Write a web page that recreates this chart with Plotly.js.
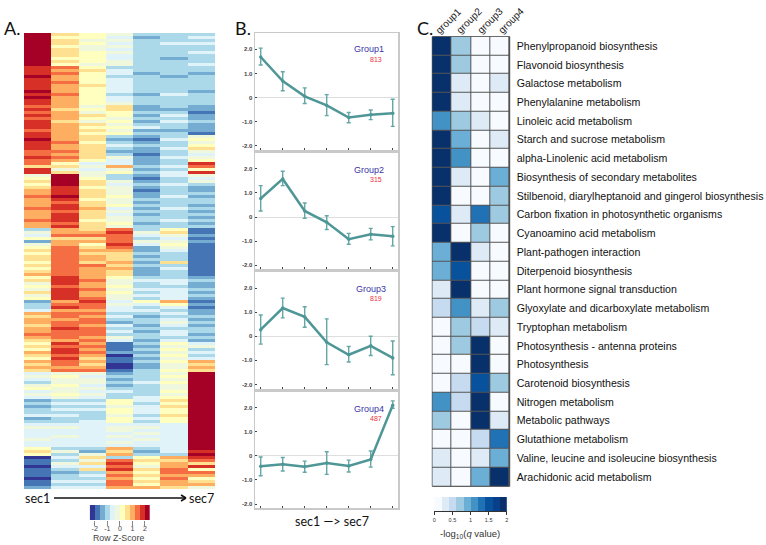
<!DOCTYPE html>
<html><head><meta charset="utf-8">
<script src="https://cdn.plot.ly/plotly-3.0.1.min.js"></script>
<style>html,body{margin:0;padding:0;background:#fff}#c{width:766px;height:545px}</style>
</head><body><div id="c"></div>
<script>
// Panel A: colour-bin level (0..11) of each heatmap row, one list per section
const sec1=[11,11,11,11,11,11,11,11,11,11,11, 10,10,10,11,10,10,10,10,11,10,11,10,10, 9,10,9,10,9,10,10,10,9,10, 10,11,10,10,10,9,9,10,9, 9,7,10,10,
 5,6,7,6,7,8,8,9,8,8,8,9,8,8,8,9,8,8, 3,5,4,6,2,5,6, 7,6,7,7,6,7,6,7,8, 6,7,5,6,5,7,5,6, 2,3,3,4, 8,7,8,8,7,8,8,9,8,7, 6,7,6,8,7,6,8,7,8,7,
 4,5,4,3,5,6,4,5,4, 2,3,2,3,3,4,2,3, 4,5,4,4,4,5,4,4, 6,7,6, 0,1,1,0,1,1,1,0,1,1,2];
const sec2=[7,6,7,7,6,7,7,7,6,7,6, 9,8,9,8,8,9,8,8,8,9,8,8,8, 8,7,8,8,8,7,8,8,8,8, 8,8,9,8,8,9,8,9,8, 6,7,5,7,
 11,11,11,11,10,10,10,11,10,9,10,10,9,10,10,10,9,10, 8,8,9,7,8,8,9, 9,9,9,9,9,9,9,9,9, 10,10,10,9,10,10,10,10, 8,9,10,8, 9,9,8,9,9,10,9,9,9,8, 10,9,10,10,9,10,9,9,8,9,
 5,6,5,5,6,5,5,6,5, 3,4,3,4,3,4,3,3, 4,5,4,4,5,4,4,4, 3,5,3, 4,3,5,4,3,2,3,3,4,3,4];
const sec3=[6,6,5,6,5,5,6,6,6,6,5, 6,7,6,6,6,6,7,6,6,6,6,6,6, 5,6,5,7,6,5,7,6,7,6, 7,7,6,7,7,7,7,7,6, 4,5,4,5,
 5,6,7,7,6,7,7,7,6,7,7,8,7,7,7,6,7,7, 7,8,9,7,8,6,7, 8,7,8,8,7,9,8,8,8, 8,9,8,8,9,8,8,9, 10,9,9,8, 9,8,9,9,8,9,9,9,8,9, 8,9,8,9,8,7,8,7,8,9,
 5,4,5,5,4,5,4,5,4, 3,4,3,4,3,3,3,4, 4,4,4,4,4,4,4,4, 3,2,5, 7,5,7,4,7,3,4,3,4,3,4];
const sec4=[5,4,5,4,5,4,5,4,4,5,5, 3,4,4,3,4,4,4,4,4,3,4,4,5, 7,7,6,6,5,6,5,6,5,6, 3,2,3,4,3,2,3,5,4, 4,8,5,6,
 3,3,5,4,5,5,5,6,5,5,6,4,5,4,5,5,6,5, 9,10,9,9,9,10,9, 8,7,7,7,8,7,8,7,7, 6,5,5,6,5,6,5,5, 4,5,4,4, 3,4,3,2,4,3,4,3,5,4, 1,1,1,2,0,1,1,0,0,1,
 2,3,2,3,2,3,4,3,3, 6,6,5,6,6,5,6,6, 4,5,5,4,5,4,5,4, 8,7,8, 3,9,10,9,10,8,9,8,9,9,8];
const sec5=[3,2,3,3,3,3,3,3,3,3,3, 3,3,2,3,3,3,3,3,3,2,3,3,3, 2,2,3,2,3,2,3,4,2,3, 2,1,2,3,2,2,1,2,2, 2,3,2,3,
 2,1,2,3,2,1,2,2,3,2,3,2,3,2,3,3,2,3, 3,5,4,3,5,4,2, 2,3,2,3,2,3,2,2,2, 3,4,3,3,4,3,4,3, 6,4,3,4, 3,2,3,3,2,3,2,3,3,2, 3,2,3,2,3,2,3,2,2,3,
 3,3,3,4,3,3,3,3,4, 4,3,4,4,4,3,4,3, 4,5,4,5,4,5,4,4, 3,2,3, 6,7,6,5,7,6,7,6,7,6,8];
const sec6=[3,3,3,4,3,3,3,3,2,3,3, 3,3,3,2,3,3,3,3,3,4,3,3,3, 3,2,3,4,3,4,3,3,2,3, 3,4,3,3,4,3,3,4,3, 3,4,3,4,
 4,3,3,4,3,3,3,4,3,3,3,4,3,3,3,4,3,3, 6,7,5,4,5,6,5, 4,3,3,3,7,3,4,3,3, 3,4,4,3,4,4,4,4, 8,6,4,3, 4,3,4,5,4,3,4,4,3,4, 6,5,6,5,6,5,6,5,5,6,
 5,6,5,6,5,5,6,5,6, 7,6,7,6,6,7,6,6, 4,4,4,4,4,4,4,4, 4,4,3, 8,7,8,8,9,9,8,9,8,8,7];
const sec7=[3,4,3,4,3,3,4,3,3,3,4, 3,3,2,3,3,3,3,3,2,3,3,3,3, 2,2,1,2,2,3,2,2,2,1, 5,6,5,6,7,5,4,5,6, 10,9,6,10,
 5,4,5,3,2,2,3,2,3,3,2,3,2,3,2,3,2,3, 1,1,2,1,2,1,1, 1,1,1,1,1,1,1,1,1, 2,3,2,2,3,2,3,2, 1,2,1,2, 2,3,2,3,2,3,3,2,3,2, 4,5,3,4,3,4,8,7,8,7,
 11,11,11,11,11,11,11,11,11, 11,11,11,11,11,11,11,11, 11,11,11,11,11,11,11,11, 11,10,11, 10,9,7,10,6,9,8,6,7,8,5];
const zBinValues=[-2.2,-1.8,-1.4,-1.0,-0.6,-0.2,0.2,0.6,1.0,1.4,1.8,2.2];
const zTicks=[-2,-1,0,1,2];

// Panel B: group means and whisker ends
const groupNames=['Group1','Group2','Group3','Group4'];
const groupCounts=['813','315','819','487'];
const g1Mean=[1.68,0.68,0.05,-0.33,-0.83,-0.72,-0.65];
const g1Up=[2.05,1.07,0.40,0.12,-0.62,-0.52,-0.07];
const g1Low=[1.35,0.28,-0.25,-0.75,-1.05,-0.92,-1.20];
const g2Mean=[0.77,1.58,0.25,-0.22,-0.92,-0.72,-0.80];
const g2Up=[1.30,1.90,0.58,0.05,-0.68,-0.47,-0.40];
const g2Low=[0.25,1.30,-0.05,-0.52,-1.13,-0.95,-1.20];
const g3Mean=[0.27,1.17,0.80,-0.25,-0.77,-0.40,-0.90];
const g3Up=[0.88,1.58,1.22,0.72,-0.43,0.00,-0.20];
const g3Low=[-0.33,0.76,0.37,-1.18,-1.07,-0.80,-1.60];
const g4Mean=[-0.43,-0.35,-0.45,-0.30,-0.42,-0.15,2.10];
const g4Up=[-0.05,-0.07,-0.22,0.17,-0.18,0.20,2.28];
const g4Low=[-0.83,-0.63,-0.68,-0.77,-0.67,-0.47,1.97];
const sections=[1,2,3,4,5,6,7];

// Panel C
const pathways=['Phenylpropanoid biosynthesis','Flavonoid biosynthesis','Galactose metabolism','Phenylalanine metabolism','Linoleic acid metabolism','Starch and sucrose metabolism','alpha-Linolenic acid metabolism','Biosynthesis of secondary metabolites','Stilbenoid, diarylheptanoid and gingerol biosynthesis','Carbon fixation in photosynthetic organisms','Cyanoamino acid metabolism','Plant-pathogen interaction','Diterpenoid biosynthesis','Plant hormone signal transduction','Glyoxylate and dicarboxylate metabolism','Tryptophan metabolism','Photosynthesis - antenna proteins','Photosynthesis','Carotenoid biosynthesis','Nitrogen metabolism','Metabolic pathways','Glutathione metabolism','Valine, leucine and isoleucine biosynthesis','Arachidonic acid metabolism'];
const groupLabels=['group1','group2','group3','group4'];
const group1Q=[2,2,2,2,1.1,2,2,2,2,1.5,2,0.9,0.9,0.3,0.5,0,0,0,0,1.1,0.7,0,0.3,0.3];
const group2Q=[0.7,0.7,0.3,0.3,0.7,0.9,1.1,0.3,0,0.3,0,2,1.5,2,1.1,0.7,0.7,0,0.5,0.5,0,0,0,0];
const group3Q=[0,0,0,0,0.3,0,0,0,0,1.3,0.7,0.3,0,0,0.3,0.5,2,2,1.5,2,2,0.5,0.3,0.9];
const group4Q=[0,0,0.3,0,0,0.3,0,0.9,0.7,0.7,0,0,0,0,0.7,0.3,0,0,0.7,0,0.3,1.3,0.9,2];
const qBinValues=[0.1,0.3,0.5,0.7,0.9,1.1,1.3,1.5,1.7,1.9];
const qTicks=[0,0.5,1,1.5,2];

const W=766,H=545;
const dx=(a,b)=>[a/W,b/W];
const dy=(a,b)=>[1-b/H,1-a/H];
const px=(x)=>x/W, py=(y)=>1-y/H;

const rdyl=['#313695','#4575b4','#74add1','#abd9e9','#e0f3f8','#eff8dc','#ffffbf','#fee090','#fdae61','#f46d43','#d73027','#a50026'];
const blues=['#f7fbff','#deebf7','#c6dbef','#9ecae1','#6baed6','#4292c6','#2171b5','#08519c','#08408c','#08306b'];
function discrete(cols){const s=[];cols.forEach((c,i)=>{s.push([i/cols.length,c]);s.push([(i+1)/cols.length,c]);});return s;}

const secCols=[sec1,sec2,sec3,sec4,sec5,sec6,sec7];
const heatZ=sec1.map((_,r)=>secCols.map(col=>zBinValues[col[r]]));
const qZ=pathways.map((_,r)=>[group1Q[r],group2Q[r],group3Q[r],group4Q[r]]);

const data=[];
const layout={width:W,height:H,margin:{l:0,r:0,t:0,b:0},paper_bgcolor:'#fff',plot_bgcolor:'#fff',showlegend:false,
  font:{family:'Liberation Sans, Arial, sans-serif',color:'#222'},annotations:[],shapes:[]};

// A: heatmap
data.push({type:'heatmap',z:heatZ,xaxis:'x',yaxis:'y',zmin:-2.4,zmax:2.4,colorscale:discrete(rdyl),showscale:false,hoverinfo:'skip'});
layout.xaxis={domain:dx(24,215),range:[-0.5,6.5],visible:false,fixedrange:true};
layout.yaxis={domain:dy(33,489),range:[sec1.length-0.5,-0.5],visible:false,fixedrange:true};

// A: colour key
data.push({type:'heatmap',z:[zBinValues],x:zBinValues,y:[0],xaxis:'x2',yaxis:'y2',zmin:-2.4,zmax:2.4,colorscale:discrete(rdyl),showscale:false,hoverinfo:'skip'});
layout.xaxis2={domain:dx(89.7,150),range:[-2.4,2.4],anchor:'y2',tickvals:zTicks,ticktext:zTicks.map(String),ticks:'outside',ticklen:5,tickcolor:'#888',tickwidth:1,
  tickfont:{size:7,color:'#444'},ticklabelstandoff:-3,showgrid:false,zeroline:false,showline:false,fixedrange:true};
layout.yaxis2={domain:dy(505,520),range:[-0.5,0.5],anchor:'x2',visible:false,fixedrange:true};

// B: group panels
const bTops=[[33,150],[153,269],[272,389],[392,508]];
const means=[g1Mean,g2Mean,g3Mean,g4Mean],ups=[g1Up,g2Up,g3Up,g4Up],lows=[g1Low,g2Low,g3Low,g4Low];
bTops.forEach((b,i)=>{
  const n=i+3,xa='x'+n,ya='y'+n;
  data.push({type:'scatter',mode:'lines+markers',x:sections,y:means[i],xaxis:xa,yaxis:ya,
    line:{color:'#4f9696',width:2.5},marker:{size:3.5,color:'#4f9696'},hoverinfo:'skip',
    error_y:{type:'data',symmetric:false,array:ups[i].map((u,k)=>u-means[i][k]),arrayminus:means[i].map((m,k)=>m-lows[i][k]),color:'#66a6a6',thickness:1.4,width:2}});
  layout['xaxis'+n]={domain:dx(255,398),range:[0.74,7.24],anchor:'y'+n,tickvals:sections,showticklabels:false,ticks:'inside',ticklen:2,tickwidth:1,tickcolor:'#444',
    showgrid:false,zeroline:false,showline:true,linecolor:'#c9c9c9',linewidth:1.5,mirror:true,fixedrange:true};
  const zeroPx=[97.5,217,336.2,455.8][i];
  layout['yaxis'+n]={domain:dy(b[0],b[1]),range:[(zeroPx-b[1])/24.1,(zeroPx-b[0])/24.1],anchor:'x'+n,
    tickvals:[-2,-1,0,1,2],ticktext:['-2.0','-1.0','0','1.0','2.0'],ticks:'inside',ticklen:2,tickwidth:1,tickcolor:'#444',
    tickfont:{size:6,color:'#444',weight:700},showgrid:false,zeroline:true,zerolinecolor:'#dedede',zerolinewidth:1,showline:true,linecolor:'#c9c9c9',linewidth:1.5,mirror:true,fixedrange:true};
  const nameY=[49,170,289,409][i],nameX=[369,369,371,369][i],cntY=[59.5,179,298,418][i];
  layout.annotations.push({xref:'paper',yref:'paper',xanchor:'center',yanchor:'middle',x:px(nameX),y:py(nameY),text:groupNames[i],showarrow:false,font:{size:9,color:'#3a35a8'}});
  layout.annotations.push({xref:'paper',yref:'paper',xanchor:'center',yanchor:'middle',x:px(376),y:py(cntY),text:groupCounts[i],showarrow:false,font:{size:7,color:'#f0303a'}});
});

// C: enrichment heatmap
data.push({type:'heatmap',z:qZ,x:groupLabels,y:pathways,xaxis:'x7',yaxis:'y7',zmin:0,zmax:2,colorscale:discrete(blues),showscale:false,xgap:1,ygap:1,hoverinfo:'skip'});
layout.xaxis7={domain:dx(432.3,509.7),anchor:'y7',side:'top',type:'category',showticklabels:false,ticks:'',showgrid:false,zeroline:false,showline:false,fixedrange:true};
layout.yaxis7={domain:dy(36.7,486.3),anchor:'x7',side:'right',type:'category',autorange:'reversed',tickfont:{size:10.6,color:'#111'},ticks:'',ticklabelstandoff:6,showgrid:false,zeroline:false,showline:false,fixedrange:true};
layout.shapes.push({type:'rect',xref:'x7 domain',yref:'y7 domain',x0:0,x1:1,y0:0,y1:1,line:{color:'#444',width:1},fillcolor:'#555',layer:'below'});

// C: colour key
data.push({type:'heatmap',z:[qBinValues],x:qBinValues,y:[0],xaxis:'x8',yaxis:'y8',zmin:0,zmax:2,colorscale:discrete(blues),showscale:false,hoverinfo:'skip'});
layout.xaxis8={domain:dx(434.3,506.8),range:[0,2],anchor:'y8',tickvals:qTicks,ticktext:qTicks.map(String),ticks:'outside',ticklen:3,tickcolor:'#333',tickfont:{size:5.5,color:'#333'},
  showgrid:false,zeroline:false,showline:true,linecolor:'#333',linewidth:1,fixedrange:true};
layout.yaxis8={domain:dy(497,511),range:[-0.5,0.5],anchor:'x8',visible:false,fixedrange:true};

// Text and arrows
const note=(x,y,t,size,fam,col,angle)=>layout.annotations.push({xref:'paper',yref:'paper',xanchor:'center',yanchor:'middle',x:px(x),y:py(y),text:t,textangle:angle||0,showarrow:false,font:{size:size,family:fam,color:col||'#111'}});
const body='Lato, Open Sans, sans-serif';
const sans='Liberation Sans, Arial, sans-serif';
note(12,28.5,'A.',18,body);
note(243,28.5,'B.',18,body);
note(424.5,27.5,'C.',18,body);
note(37.5,498,'sec1',12.5,body);
note(201.5,498,'sec7',12.5,body);
note(332,521,'sec1 —> sec7',12.5,body);
note(469.5,534,'-log<sub>10</sub>(<i>q</i> value)',9.5,sans,'#333');
note(118.3,538,'Row Z-Score',8.8,sans,'#444');
[448.5,469,490,511].forEach((x,i)=>note(x,20,groupLabels[i],10,sans,'#222',-45));

// sec1 -> sec7 arrow of panel A
const line=(x0,y0,x1,y1)=>layout.shapes.push({type:'line',xref:'paper',yref:'paper',x0:px(x0),y0:py(y0),x1:px(x1),y1:py(y1),line:{color:'#111',width:1.5}});
line(54,498,186,498);line(181,495,186,498);line(181,501,186,498);

Plotly.newPlot('c',data,layout,{displayModeBar:false,staticPlot:true});
</script></body></html>
